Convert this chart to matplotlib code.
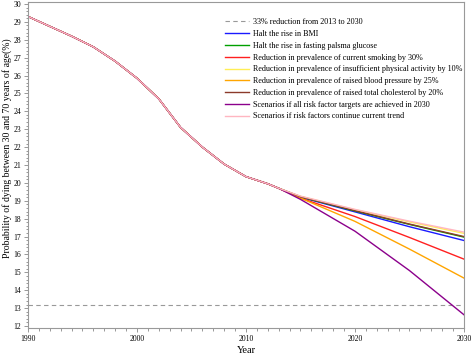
import matplotlib
matplotlib.use("Agg")
import matplotlib.pyplot as plt
from matplotlib.ticker import MultipleLocator

# shared history 1990-2013
hist_years = [1990, 1992, 1994, 1996, 1998, 2000, 2002, 2004, 2006, 2008, 2010, 2012, 2013]
hist_vals = [29.3, 28.75, 28.2, 27.6, 26.8, 25.85, 24.7, 23.1, 22.0, 21.05, 20.35, 19.95, 19.7]

# projections 2013-2030
proj_years = [2013, 2015, 2020, 2025, 2030]
bmi = [19.7, 19.2, 18.38, 17.55, 16.78]
glucose = [19.7, 19.22, 18.43, 17.68, 16.97]
smoking = [19.7, 19.15, 18.12, 16.95, 15.74]
activity = [19.7, 19.25, 18.5, 17.82, 17.18]
blood_pressure = [19.7, 19.15, 17.85, 16.3, 14.68]
cholesterol = [19.7, 19.23, 18.45, 17.7, 17.0]
all_targets = [19.7, 19.08, 17.3, 15.1, 12.63]
current_trend = [19.7, 19.26, 18.52, 17.86, 17.25]

target_level = 13.18  # 33% reduction from 2013

labels = [
    "Halt the rise in BMI",
    "Halt the rise in fasting palsma glucose",
    "Reduction in prevalence of current smoking by 30%",
    "Reduction in prevalence of insufficient physical activity by 10%",
    "Reduction in prevalence of raised blood pressure by 25%",
    "Reduction in prevalence of raised total cholesterol by 20%",
    "Scenarios if all risk factor targets are achieved in 2030",
    "Scenarios if risk factors continue current trend",
]
series = [bmi, glucose, smoking, activity, blood_pressure, cholesterol, all_targets, current_trend]
colors = ["#1a1aff", "#00a000", "#ff2020", "#ffee55", "#ffa500", "#8b3a2a", "#8b008b", "#ffb6c1"]

plt.rcParams["font.family"] = ["Liberation Serif", "DejaVu Serif"]

fig = plt.figure(figsize=(4.72, 3.61), dpi=100)
ax = fig.add_axes([0.0593, 0.0914, 0.9237, 0.903])

ax.plot([1990, 2030], [target_level, target_level], color="#999999", lw=0.8,
        ls=(0, (4, 3)), label="33% reduction from 2013 to 2030")
for vals, lab, c in zip(series, labels, colors):
    ax.plot(hist_years + proj_years[1:], hist_vals + vals[1:], color=c, lw=1.0, label=lab)

ax.set_xlim(1990, 2030)
ax.set_ylim(11.89, 30.11)
ax.xaxis.set_major_locator(MultipleLocator(10))
ax.xaxis.set_minor_locator(MultipleLocator(1))
ax.yaxis.set_major_locator(MultipleLocator(1))
ax.yaxis.set_minor_locator(MultipleLocator(0.2))
ax.tick_params(which="both", colors="#888888", labelcolor="black", labelsize=5.5, width=0.6)
ax.tick_params(which="major", length=3, pad=2)
ax.tick_params(which="minor", length=1.8)
for s in ax.spines.values():
    s.set_color("#999999")
    s.set_linewidth(0.8)

ax.set_xlabel("Year", fontsize=7.5, labelpad=2)
ax.set_ylabel("Probability of dying between 30 and 70 years of age(%)", fontsize=7.0)
ax.yaxis.set_label_coords(-0.036, 0.552)

leg = ax.legend(loc="upper right", bbox_to_anchor=(1.004, 0.96), fontsize=5.9, frameon=False,
                handlelength=3.0, handletextpad=0.45, labelspacing=0.46, borderaxespad=0)

fig.savefig("out.png", dpi=100)
